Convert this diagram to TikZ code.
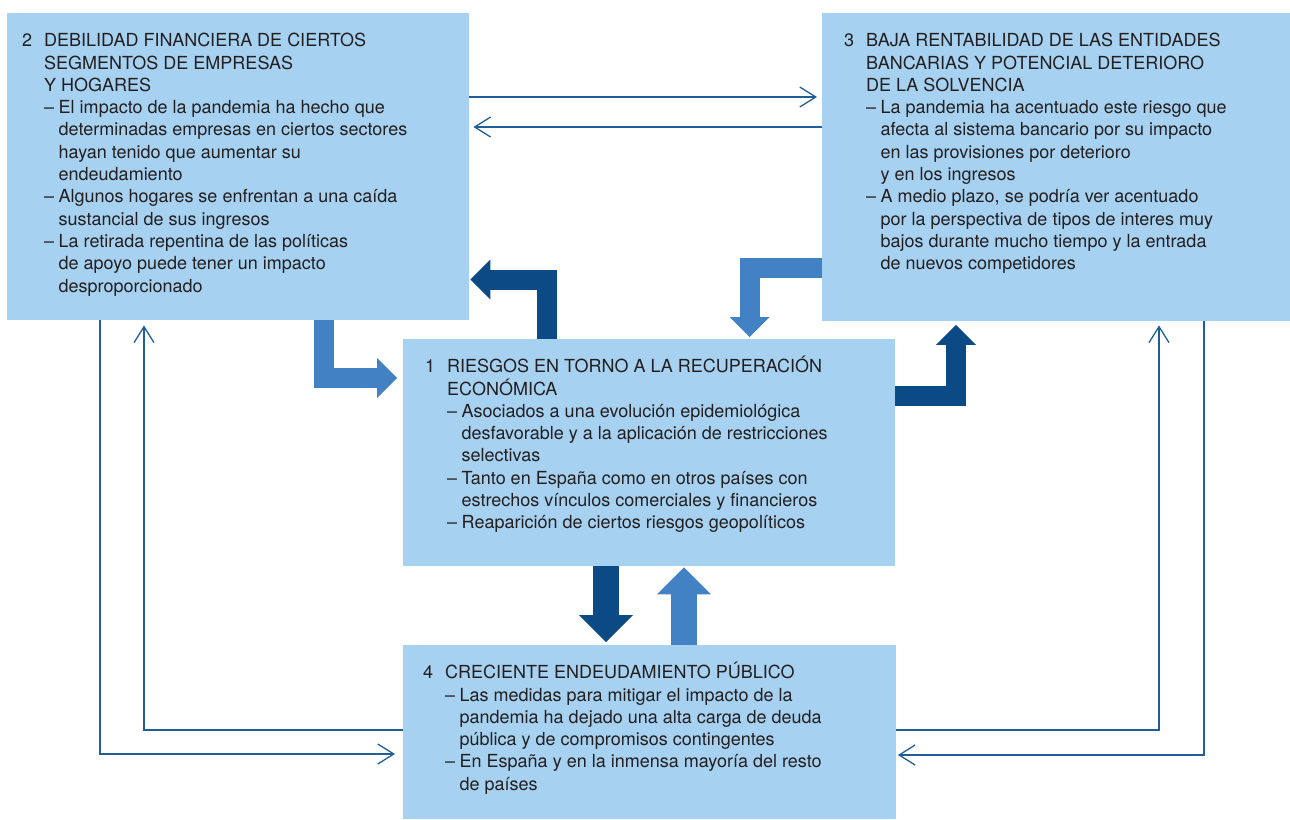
\documentclass[tikz,border=0pt]{standalone}
\usepackage{fontspec}
\setmainfont{TeX Gyre Heros}
\usetikzlibrary{arrows.meta}

\definecolor{boxblue}{RGB}{166,209,240}
\definecolor{darkarrow}{RGB}{11,74,132}
\definecolor{lightarrow}{RGB}{65,129,196}
\definecolor{linkblue}{RGB}{31,94,153}
\definecolor{textgray}{RGB}{35,31,32}

\newcommand{\riskfont}{\fontsize{18}{22.3}\selectfont}
\newcommand{\riskpanel}[3]{\begin{minipage}[t][#2][t]{#1}#3\end{minipage}}
\newcommand{\riskhead}[2]{\par\noindent\hangindent=22pt\hangafter=1\rule{0pt}{17pt}\makebox[22pt][l]{#1}#2\par}
\newcommand{\riskitem}[1]{\par\noindent\hangindent=36.5pt\hangafter=1\hspace*{22pt}\makebox[14.5pt][l]{--}#1\par}

\tikzset{
  riskbox/.style={fill=boxblue, anchor=north west, inner xsep=#1, inner ysep=16.5pt, text=textgray, font=\riskfont},
  thinlink/.style={draw=linkblue, line width=1.3pt, -{Straight Barb[length=16pt,width=20pt,line width=1.3pt]}},
  fatarrow/.style={line width=20pt, -{Triangle[length=20pt,width=40pt,line width=0pt]}},
  bigarrow/.style={line width=26pt, -{Triangle[length=27pt,width=54pt,line width=0pt]}}
}

\begin{document}
\begin{tikzpicture}[x=1pt, y=-1pt]
\useasboundingbox (0,0) rectangle (1290,819);

% boxes
\node[riskbox=15pt] (b2) at (7,13) {\riskpanel{432pt}{274pt}{%
  \riskhead{2}{DEBILIDAD FINANCIERA DE CIERTOS\\SEGMENTOS DE EMPRESAS\\Y HOGARES}
  \riskitem{El impacto de la pandemia ha hecho que\\determinadas empresas en ciertos sectores\\hayan tenido que aumentar su\\endeudamiento}
  \riskitem{Algunos hogares se enfrentan a una caída\\sustancial de sus ingresos}
  \riskitem{La retirada repentina de las políticas\\de apoyo puede tener un impacto\\desproporcionado}}};
\node[riskbox=22pt] (b3) at (822,13) {\riskpanel{424pt}{275pt}{%
  \riskhead{3}{BAJA RENTABILIDAD DE LAS ENTIDADES\\BANCARIAS Y POTENCIAL DETERIORO\\DE LA SOLVENCIA}
  \riskitem{La pandemia ha acentuado este riesgo que\\afecta al sistema bancario por su impacto\\en las provisiones por deterioro\\y en los ingresos}
  \riskitem{A medio plazo, se podría ver acentuado\\por la perspectiva de tipos de interes muy\\bajos durante mucho tiempo y la entrada\\de nuevos competidores}}};
\node[riskbox=22pt] (b1) at (403,339) {\riskpanel{448pt}{194pt}{%
  \riskhead{1}{RIESGOS EN TORNO A LA RECUPERACIÓN\\ECONÓMICA}
  \riskitem{Asociados a una evolución epidemiológica\\desfavorable y a la aplicación de restricciones\\selectivas}
  \riskitem{Tanto en España como en otros países con\\estrechos vínculos comerciales y financieros}
  \riskitem{Reaparición de ciertos riesgos geopolíticos}}};
\node[riskbox=20pt] (b4) at (403,645) {\riskpanel{453pt}{141pt}{%
  \riskhead{4}{CRECIENTE ENDEUDAMIENTO PÚBLICO}
  \riskitem{Las medidas para mitigar el impacto de la\\pandemia ha dejado una alta carga de deuda\\pública y de compromisos contingentes}
  \riskitem{En España y en la inmensa mayoría del resto\\de países}}};

% thin links
\draw[thinlink, shorten >=5pt] (b2.east |- 0,97) -- (b3.west |- 0,97);
\draw[thinlink, shorten >=4pt] (b3.west |- 0,127) -- (b2.east |- 0,127);
\draw[thinlink, shorten >=8pt] (b2.south -| 100,0) |- (b4.west |- 0,754);
\draw[thinlink, shorten >=5pt] (b4.west |- 0,730) -| (b2.south -| 144,0);
\draw[thinlink, shorten >=4pt] (b4.east |- 0,730) -| (b3.south -| 1159,0);
\draw[thinlink, shorten >=1.5pt] (b3.south -| 1204,0) |- (b4.east |- 0,755);

% fat arrows
\draw[fatarrow, draw=lightarrow, shorten >=6pt] (b2.south -| 323.5,0) |- (b1.west |- 0,378);
\draw[fatarrow, draw=darkarrow, shorten >=1pt] (b1.north -| 547,0) |- (b2.east |- 0,279.5);
\draw[fatarrow, draw=lightarrow, shorten >=2pt] (b3.west |- 0,268) -| (b1.north -| 749.5,0);
\draw[fatarrow, draw=darkarrow, shorten >=3.5pt] (b1.east |- 0,396) -| (b3.south -| 956,0);
\draw[bigarrow, draw=darkarrow, shorten >=3pt] (b1.south -| 606,0) -- (b4.north -| 606,0);
\draw[bigarrow, draw=lightarrow, shorten >=1pt] (b4.north -| 684,0) -- (b1.south -| 684,0);

\end{tikzpicture}
\end{document}
